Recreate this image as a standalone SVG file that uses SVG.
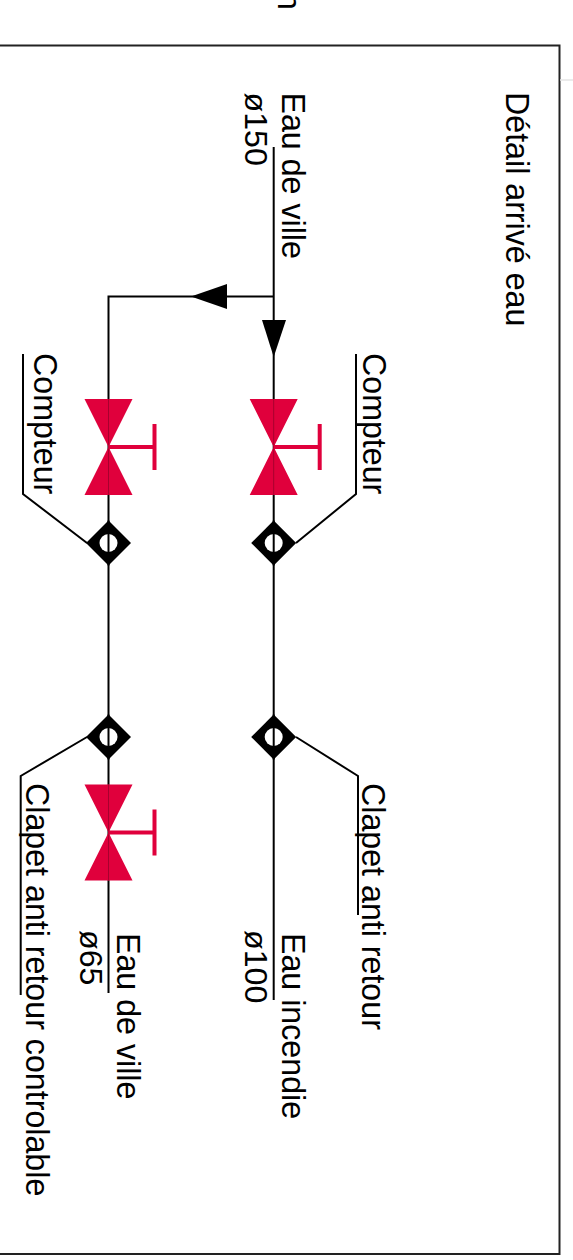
<svg xmlns="http://www.w3.org/2000/svg" width="573" height="1260" viewBox="0 0 573 1260">
<style>
.l{fill:none;stroke:#000;stroke-width:2}
.t{font-family:"Liberation Sans",Arial,sans-serif;font-size:32.200px;fill:#000}
.v{fill:#e0003c}
.h{fill:none;stroke:#e0003c;stroke-width:4}
.a{fill:#000}
</style>
<defs>
<g id="valve"><path class="v" d="M-24,-48H24L0,0L24,48H-24L0,0Z"/><path d="M0,-48V48" stroke="#a8002e" stroke-width="1"/><path class="h" d="M0,0H46M46,-23V23"/></g>
<g id="check"><path class="a" d="M0,-22.500L22.500,0L0,22.500L-22.500,0Z"/><circle r="9" fill="#fff"/><path d="M0,-22.500V22.500" stroke="#000" stroke-width="2"/></g>
</defs>
<rect width="573" height="1260" fill="#fff"/>
<g id="frame"><path d="M0,45.500H559.500V1254H0" fill="none" stroke="#222" stroke-width="2"/><path d="M560,80H573" stroke="#e4e4e4" stroke-width="1.500"/></g>
<g id="connectors">
<path class="l" d="M273.700,147V1000"/>
<path class="l" d="M273.700,296.500H108.500V993"/>
<path class="l" d="M23,354V494L87,543"/>
<path class="l" d="M356,354V494L296,543"/>
<path class="l" d="M20.700,995V776L87,737"/>
<path class="l" d="M358,915V776L296,737"/>
<path class="a" d="M191,296.500L227,284V309Z"/>
<path class="a" d="M273.700,357L262,320H286Z"/>
</g>
<g id="valve1"><use href="#valve" x="273.700" y="447"/></g>
<g id="valve2"><use href="#valve" x="108.500" y="447"/></g>
<g id="valve3"><use href="#valve" x="108.500" y="832.500"/></g>
<g id="check1"><use href="#check" x="273.700" y="543"/></g>
<g id="check2"><use href="#check" x="108.500" y="543"/></g>
<g id="check3"><use href="#check" x="273.700" y="737"/></g>
<g id="check4"><use href="#check" x="108.500" y="737"/></g>
<g id="labels">
<text class="t" transform="translate(278,10) rotate(90) scale(1,1.050)" text-anchor="end">n</text>
<text class="t" transform="translate(506,92) rotate(90) scale(1,1.050)">Détail arrivé eau</text>
<text class="t" transform="translate(282,92.500) rotate(90) scale(1,1.050)">Eau de ville</text>
<text class="t" transform="translate(245,92.500) rotate(90)">ø150</text>
<text class="t" transform="translate(363,353) rotate(90) scale(1,1.050)">Compteur</text>
<text class="t" transform="translate(34,353) rotate(90) scale(1,1.050)">Compteur</text>
<text class="t" transform="translate(362,783) rotate(90) scale(1,1.050)">Clapet anti retour</text>
<text class="t" transform="translate(26,783) rotate(90) scale(1,1.050)">Clapet anti retour controlable</text>
<text class="t" transform="translate(282,933) rotate(90) scale(1,1.050)">Eau incendie</text>
<text class="t" transform="translate(245,930) rotate(90)">ø100</text>
<text class="t" transform="translate(117,933) rotate(90) scale(1,1.050)">Eau de ville</text>
<text class="t" transform="translate(80,930) rotate(90)">ø65</text>
</g>
</svg>
